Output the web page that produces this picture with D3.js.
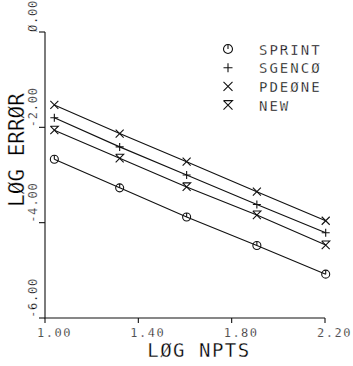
<!DOCTYPE html>
<html>
<head>
<meta charset="utf-8" />
<script src="https://d3js.org/d3.v7.min.js"></script>
<style>
  body { margin: 0; padding: 0; background: #fff; }
  svg { display: block; }
  text { font-family: "DejaVu Sans Mono", monospace; fill: #000; stroke: #fff; stroke-width: 0.3px; }
  .tick-label { font-size: 12px; letter-spacing: 1.5px; }
  .ylab { letter-spacing: 0.8px; }
  .title { font-size: 19px; letter-spacing: 1.5px; }
  .legend text { font-size: 14px; letter-spacing: 2px; }
  .mark, .series, .axis-line { fill: none; stroke: #111; stroke-width: 1.1px; }
</style>
</head>
<body>
<svg id="chart" width="353" height="366"></svg>
<script>
// log10 of number of points
var logNpts = [1.04, 1.32, 1.607, 1.908, 2.203];

var seriesNames = ["SPRINT", "SGENCØ", "PDEØNE", "NEW"];
var sprint = [-2.67, -3.27, -3.88, -4.48, -5.08];
var sgenco = [-1.80, -2.41, -3.00, -3.62, -4.21];
var pdeone = [-1.53, -2.13, -2.72, -3.35, -3.96];
var newer  = [-2.06, -2.65, -3.25, -3.84, -4.47];

var xTicks = [1.0, 1.4, 1.8, 2.2];
var xTickLabels = ["1.00", "1.40", "1.80", "2.20"];
var yTicks = [0, -2, -4, -6];
var yTickLabels = ["Ø.00", "-2.00", "-4.00", "-6.00"];

var svg = d3.select("#chart");

var x = d3.scaleLinear().domain([1.0, 2.2]).range([45, 325]);
var y = d3.scaleLinear().domain([-6, 0]).range([318, 32]);

// axes drawn by hand: plotter style
svg.append("path").attr("class", "axis-line")
    .attr("d", "M" + x(1.0) + "," + y(0) + "V" + y(-6) + "H" + x(2.2));

svg.selectAll(".ytick").data(yTicks).enter().append("line")
    .attr("class", "axis-line")
    .attr("x1", x(1.0)).attr("x2", x(1.0) - 6)
    .attr("y1", function(d) { return y(d); })
    .attr("y2", function(d) { return y(d); });

svg.selectAll(".xtick").data(xTicks).enter().append("line")
    .attr("class", "axis-line")
    .attr("x1", function(d) { return x(d); })
    .attr("x2", function(d) { return x(d); })
    .attr("y1", y(-6)).attr("y2", y(-6) + 5);

svg.selectAll(".xlab").data(xTicks).enter().append("text")
    .attr("class", "tick-label")
    .attr("x", function(d) { return x(d) - 8; })
    .attr("y", 337)
    .text(function(d, i) { return xTickLabels[i]; });

svg.selectAll(".ylab").data(yTicks).enter().append("text")
    .attr("class", "tick-label ylab")
    .attr("transform", function(d) { return "translate(37," + y(d) + ") rotate(-90)"; })
    .text(function(d, i) { return yTickLabels[i]; });

svg.append("text").attr("class", "title")
    .attr("x", 199).attr("y", 357)
    .attr("text-anchor", "middle")
    .text("LØG NPTS");

svg.append("text").attr("class", "title")
    .style("font-size", "21px").style("letter-spacing", "0px")
    .attr("transform", "translate(24,150) rotate(-90)")
    .attr("text-anchor", "middle")
    .text("LØG ERRØR");

// marker shapes
function drawMarker(g, kind, s) {
  if (kind === 0) {
    g.append("circle").attr("class", "mark").attr("r", s);
    g.append("line").attr("class", "mark").attr("x1", 0).attr("x2", 0).attr("y1", -s).attr("y2", 0);
  } else if (kind === 1) {
    g.append("path").attr("class", "mark").attr("d", "M" + (-s) + ",0H" + s + "M0," + (-s) + "V" + s);
  } else if (kind === 2) {
    g.append("path").attr("class", "mark").attr("d", "M" + (-s) + "," + (-s) + "L" + s + "," + s + "M" + s + "," + (-s) + "L" + (-s) + "," + s);
  } else {
    g.append("path").attr("class", "mark").attr("d", "M" + (-s) + "," + (-s) + "H" + s + "L" + (-s) + "," + s + "M" + (-s) + "," + (-s) + "L" + s + "," + s);
  }
}

var allSeries = [sprint, sgenco, pdeone, newer];
var line = d3.line()
    .x(function(d, i) { return x(logNpts[i]); })
    .y(function(d) { return y(d); });

allSeries.forEach(function(vals, k) {
  svg.append("path").attr("class", "series").attr("d", line(vals));
  vals.forEach(function(v, i) {
    var g = svg.append("g").attr("transform", "translate(" + x(logNpts[i]) + "," + y(v) + ")");
    drawMarker(g, k, 4);
  });
});

// legend
var legend = svg.append("g").attr("class", "legend");
seriesNames.forEach(function(name, k) {
  var yy = 49 + k * 18.7;
  var g = legend.append("g").attr("transform", "translate(228," + yy + ")");
  drawMarker(g, k, 4.5);
  legend.append("text").attr("x", 259).attr("y", yy + 5.5).text(name);
});
</script>
</body>
</html>
